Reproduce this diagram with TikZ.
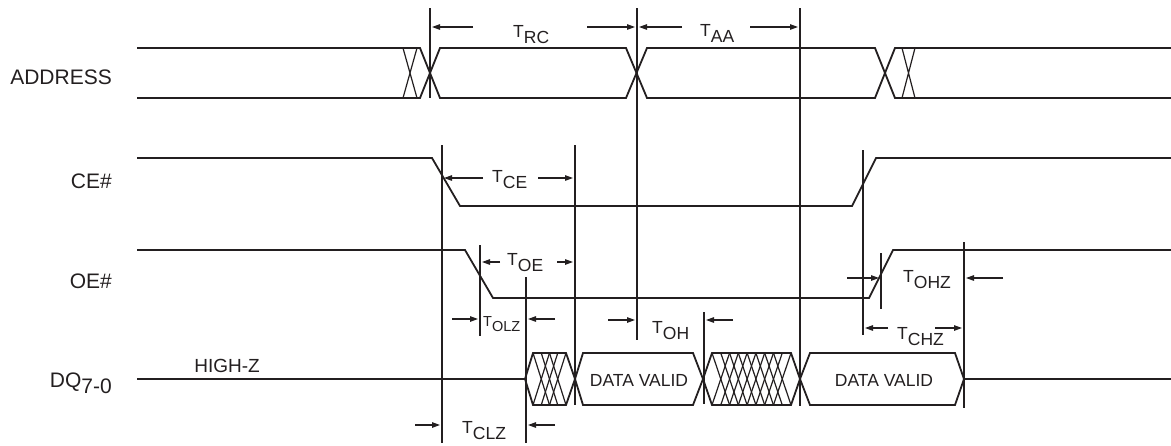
\documentclass[tikz,border=0pt]{standalone}
\usepackage{fontspec}
\setmainfont{Liberation Sans}
\usetikzlibrary{arrows.meta}
\definecolor{ink}{RGB}{35,31,32}
\newcommand{\tsub}[1]{T\raisebox{-6pt}{#1}}
\begin{document}
\begin{tikzpicture}[x=1pt,y=-1pt,
  wave/.style={draw=ink,line width=1.8pt,line join=miter},
  hatch/.style={draw=ink,line width=1.2pt},
  vline/.style={draw=ink,line width=1.6pt},
  dim/.style={draw=ink,line width=1.2pt,-{Triangle[length=8pt,width=5.5pt]}},
  sig/.style={text=ink,font=\fontsize{21}{24}\selectfont,inner sep=0pt},
  tlab/.style={text=ink,font=\fontsize{17.5}{20}\selectfont,anchor=base west,inner sep=0pt},
  tsmall/.style={text=ink,font=\fontsize{14.5}{17}\selectfont,anchor=base west,inner sep=0pt},
  dv/.style={text=ink,font=\fontsize{17.5}{20}\selectfont,inner sep=0pt}]
\useasboundingbox (0,0) rectangle (1171,445);

% signal names
\node[sig,anchor=east] (naddr) at (112,77) {ADDRESS};
\node[sig,anchor=east] (nce) at (112,181) {CE\#};
\node[sig,anchor=east] (noe) at (112,281) {OE\#};
\node[sig,anchor=base east] (ndq) at (112,387) {DQ\raisebox{-6pt}{7-0}};
\node[sig,font=\fontsize{19}{22}\selectfont] (nhz) at (227,366) {HIGH-Z};

% ADDRESS bus
\draw[wave] (137,48) -- (420,48) -- (440,98) -- (626,98) -- (647,48) -- (875,48) -- (895,98) -- (1171,98);
\draw[wave] (137,98) -- (420,98) -- (440,48) -- (626,48) -- (647,98) -- (875,98) -- (895,48) -- (1171,48);
\draw[hatch] (403,48) -- (417,98) (403,98) -- (417,48);
\draw[hatch] (902,48) -- (915,98) (902,98) -- (915,48);

% CE#
\draw[wave] (137,158) -- (432,158) -- (460,206) -- (852,206) -- (876,158) -- (1171,158);
% OE#
\draw[wave] (137,250) -- (465,250) -- (493,298) -- (869,298) -- (893,250) -- (1171,250);

% DQ
\draw[wave] (137,379) -- (525,379);
\draw[wave] (964,379) -- (1171,379);
\draw[wave] (525,379) -- (533,353) -- (566,353) -- (575,379) -- (566,405) -- (533,405) -- cycle;
\foreach \i in {0,1,2} {
  \draw[hatch] ({533+\i*8.25},353) -- ({533+(\i+2)*8.25},405);
  \draw[hatch] ({533+\i*8.25},405) -- ({533+(\i+2)*8.25},353);
}
\draw[wave] (575,379) -- (583,353) -- (693,353) -- (703,379) -- (693,405) -- (583,405) -- cycle;
\draw[wave] (703,379) -- (712,353) -- (791,353) -- (800,379) -- (791,405) -- (712,405) -- cycle;
\foreach \i in {0,...,7} {
  \draw[hatch] ({712+\i*8.78},353) -- ({712+(\i+2)*8.78},405);
  \draw[hatch] ({712+\i*8.78},405) -- ({712+(\i+2)*8.78},353);
}
\draw[wave] (800,379) -- (810,353) -- (955,353) -- (964,379) -- (955,405) -- (810,405) -- cycle;
\node[dv] (dv1) at (639,380) {DATA VALID};
\node[dv] (dv2) at (884,380) {DATA VALID};

% reference lines
\draw[vline] (430,8) -- (430,98);
\draw[vline] (637,8) -- (637,340);
\draw[vline] (800,8) -- (800,406);
\draw[vline] (442,145) -- (442,443);
\draw[vline] (575,145) -- (575,405);
\draw[vline] (480,245) -- (480,336);
\draw[vline] (526,277) -- (526,443);
\draw[vline] (704,312) -- (704,404);
\draw[vline] (863,150) -- (863,335);
\draw[vline] (881,253) -- (881,309);
\draw[vline] (964,242) -- (964,408);

% timing arrows
\draw[dim] (473,27) -- (432,27);
\draw[dim] (587,27) -- (635,27);
\draw[dim] (682,27) -- (639,27);
\draw[dim] (750,27) -- (798,27);
\draw[dim] (483,178) -- (444,178);
\draw[dim] (538,178) -- (573,178);
\draw[dim] (500,262) -- (482,262);
\draw[dim] (557,262) -- (573,262);
\draw[dim] (847,278) -- (879,278);
\draw[dim] (1003,278) -- (966,278);
\draw[dim] (452,319) -- (478,319);
\draw[dim] (555,319) -- (528,319);
\draw[dim] (608,320) -- (635,320);
\draw[dim] (733,320) -- (706,320);
\draw[dim] (888,328) -- (865,328);
\draw[dim] (935,328) -- (962,328);
\draw[dim] (415,425) -- (440,425);
\draw[dim] (555,425) -- (528,425);

% timing labels
\node[tlab] (trc) at (513,37) {\tsub{RC}};
\node[tlab] (taa) at (700,36) {\tsub{AA}};
\node[tlab] (tce) at (492,182) {\tsub{CE}};
\node[tlab] (toe) at (507,265) {\tsub{OE}};
\node[tlab] (tohz) at (903,282) {\tsub{OHZ}};
\node[tsmall] (tolz) at (483,326) {T\raisebox{-5pt}{OLZ}};
\node[tlab] (toh) at (652,333) {\tsub{OH}};
\node[tlab] (tchz) at (897,339) {\tsub{CHZ}};
\node[tlab] (tclz) at (462,433) {\tsub{CLZ}};
\end{tikzpicture}
\end{document}
